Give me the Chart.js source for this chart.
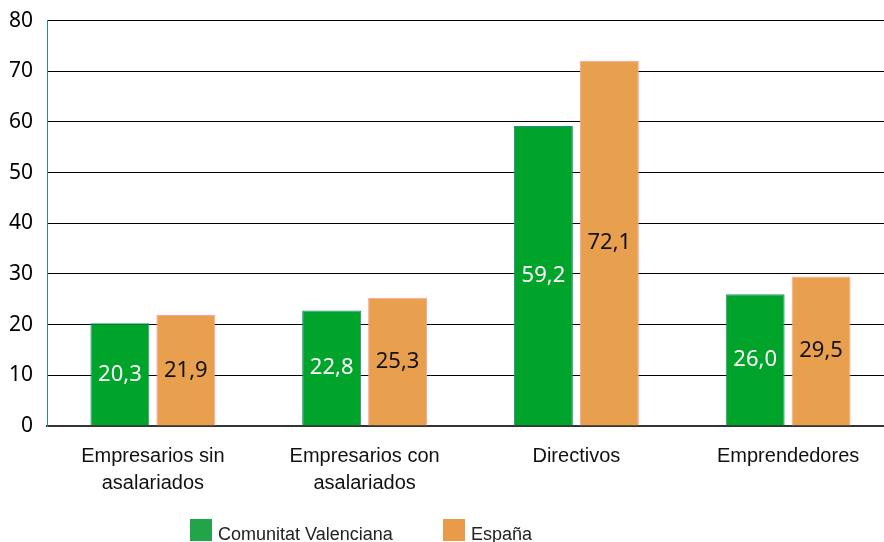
<!DOCTYPE html>
<html>
<head>
<meta charset="utf-8">
<script src="https://cdn.jsdelivr.net/npm/chart.js@4.4.1/dist/chart.umd.min.js"></script>
<style>
  html, body { margin: 0; padding: 0; background: #fff; overflow: hidden; }
  #wrap { position: relative; width: 884px; height: 542px; overflow: hidden; }
  #grafico { position: absolute; left: 0; top: -6px; }
  .leyenda { position: absolute; top: 519px; font: 18px "Liberation Sans", Arial, sans-serif; color: #222; white-space: nowrap; }
  .leyenda i { position: absolute; left: 0; top: 0; width: 22px; height: 22px; }
  .leyenda span { position: absolute; left: 28px; top: 5px; }
</style>
</head>
<body>
<div id="wrap">
  <canvas id="grafico" width="894" height="548"></canvas>
  <div id="leyenda"></div>
</div>
<script>
// categorías (dos líneas en el eje X)
const categorias = [
  ["Empresarios sin", "asalariados"],
  ["Empresarios con", "asalariados"],
  "Directivos",
  "Emprendedores"
];

// porcentajes por territorio
const comunitatValenciana = [20.3, 22.8, 59.2, 26.0];
const espana = [21.9, 25.3, 72.1, 29.5];

const series = ["Comunitat Valenciana", "España"];
const ticksY = [0, 10, 20, 30, 40, 50, 60, 70, 80];

const fmtDec = (v) => v.toFixed(1).replace(".", ",");

// etiqueta del valor en el centro de cada barra
const etiquetasBarras = {
  id: "etiquetasBarras",
  afterDatasetsDraw(chart) {
    const { ctx } = chart;
    ctx.save();
    ctx.font = '22px "Noto Sans", "DejaVu Sans", sans-serif';
    ctx.textAlign = "center";
    ctx.textBaseline = "middle";
    chart.data.datasets.forEach((ds, i) => {
      const meta = chart.getDatasetMeta(i);
      ctx.fillStyle = i === 0 ? "#ffffff" : "#111111";
      meta.data.forEach((bar, j) => {
        const y = (bar.y + bar.base) / 2;
        ctx.fillText(fmtDec(ds.data[j]), bar.x, y);
      });
    });
    ctx.restore();
  }
};

new Chart(document.getElementById("grafico"), {
  type: "bar",
  data: {
    labels: categorias,
    datasets: [
      {
        label: series[0],
        data: comunitatValenciana,
        backgroundColor: "#00a42a",
        borderColor: "#2b8c86",
        borderWidth: 1,
        categoryPercentage: 0.623,
        barPercentage: 0.894
      },
      {
        label: series[1],
        data: espana,
        backgroundColor: "#e8a04e",
        borderColor: "#f4a3a0",
        borderWidth: 1,
        categoryPercentage: 0.623,
        barPercentage: 0.894
      }
    ]
  },
  options: {
    responsive: false,
    animation: false,
    layout: { padding: { top: 15, left: 0, right: 0, bottom: 0 } },
    plugins: {
      legend: { display: false },
      tooltip: { enabled: false }
    },
    scales: {
      x: {
        grid: { display: false, drawTicks: false },
        border: { color: "#333333", width: 2 },
        ticks: {
          color: "#111111",
          padding: 17,
          maxRotation: 0,
          font: { family: '"Liberation Sans", Arial, sans-serif', size: 20, lineHeight: 1.35 }
        },
        afterFit: (s) => { s.height = 116; }
      },
      y: {
        min: 0,
        max: 80,
        afterBuildTicks: (s) => { s.ticks = ticksY.map(v => ({ value: v })); },
        grid: { color: "#000000", lineWidth: 1, drawTicks: false },
        border: { color: "#2b8c86", width: 1 },
        ticks: {
          color: "#000000",
          padding: 14,
          font: { family: '"Noto Sans", "DejaVu Sans", sans-serif', size: 21 }
        },
        afterFit: (s) => { s.width = 47; }
      }
    }
  },
  plugins: [etiquetasBarras]
});

// leyenda en HTML
const coloresLeyenda = ["#22a548", "#e89c4a"];
const posLeyenda = [190, 443];
document.getElementById("leyenda").innerHTML = series.map((s, i) =>
  `<div class="leyenda" style="left:${posLeyenda[i]}px"><i style="background:${coloresLeyenda[i]}"></i><span>${s}</span></div>`
).join("");
</script>
</body>
</html>
